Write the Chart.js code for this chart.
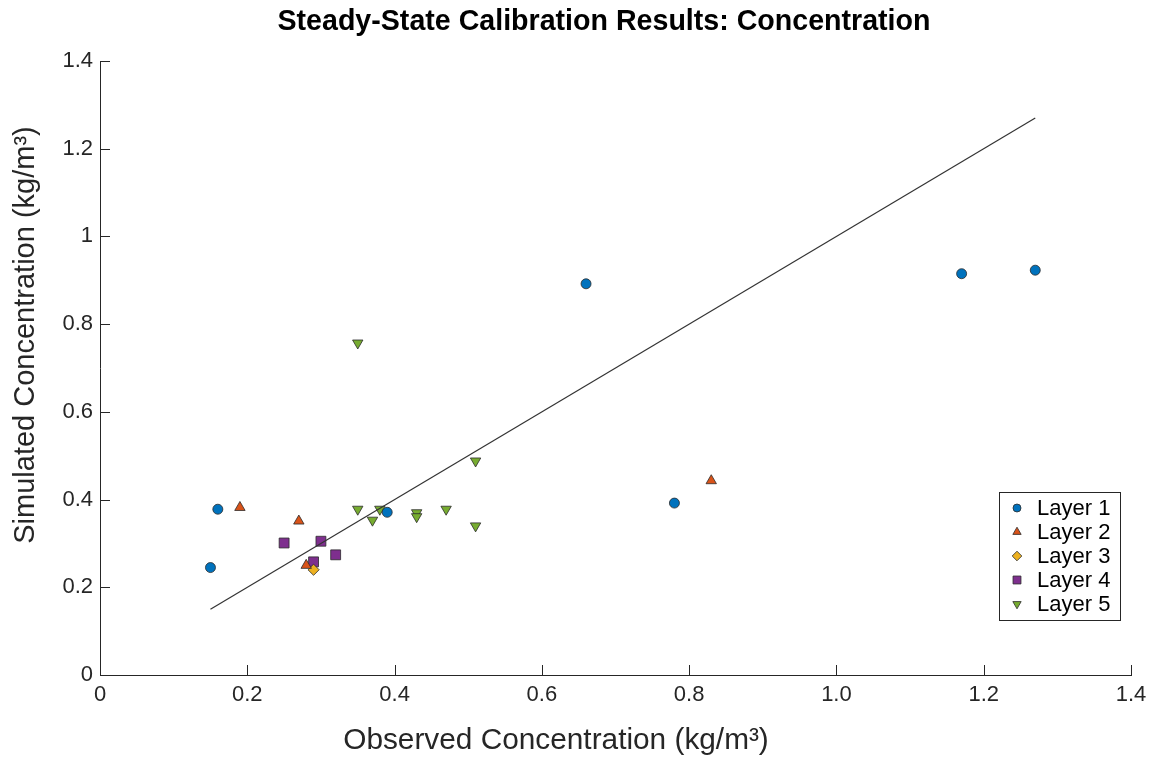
<!DOCTYPE html>
<html>
<head>
<meta charset="utf-8">
<script src="https://cdn.jsdelivr.net/npm/chart.js@4.4.1/dist/chart.umd.min.js"></script>
<style>
  html, body { margin: 0; padding: 0; background: #fff; }
  #wrap { width: 1157px; height: 759px; position: relative; }
</style>
</head>
<body>
<div id="wrap"><canvas id="chart"></canvas></div>
<script>
// Données
const layerNames = ['Layer 1', 'Layer 2', 'Layer 3', 'Layer 4', 'Layer 5'];
const layerColors = ['#0072BD', '#D95319', '#EDB120', '#7E2F8E', '#77AC30'];

const layer1X = [0.15, 0.16, 0.39, 0.66, 0.78, 1.17, 1.27];
const layer1Y = [0.245, 0.378, 0.371, 0.892, 0.392, 0.915, 0.923];
const layer2X = [0.19, 0.27, 0.28, 0.83];
const layer2Y = [0.382, 0.351, 0.25, 0.443];
const layer3X = [0.29];
const layer3Y = [0.24];
const layer4X = [0.25, 0.30, 0.32, 0.29];
const layer4Y = [0.301, 0.305, 0.274, 0.258];
const layer5X = [0.35, 0.35, 0.37, 0.38, 0.43, 0.43, 0.47, 0.51, 0.51];
const layer5Y = [0.757, 0.378, 0.353, 0.378, 0.370, 0.361, 0.378, 0.340, 0.488];

// droite 1:1
const fitX = [0.15, 1.27];
const fitY = [0.15, 1.27];

const xTicks = [0, 0.2, 0.4, 0.6, 0.8, 1.0, 1.2, 1.4];
const xTickLabels = ['0', '0.2', '0.4', '0.6', '0.8', '1.0', '1.2', '1.4'];
const yTicks = [0, 0.2, 0.4, 0.6, 0.8, 1.0, 1.2, 1.4];
const yTickLabels = ['0', '0.2', '0.4', '0.6', '0.8', '1', '1.2', '1.4'];

const titleText = 'Steady-State Calibration Results: Concentration';
const xTitle = 'Observed Concentration (kg/m\u00B3)';
const yTitle = 'Simulated Concentration (kg/m\u00B3)';

const FONT = '"Liberation Sans", Arial, Helvetica, sans-serif';
const AXIS = '#262626';

const toPts = (xs, ys) => xs.map((x, i) => ({ x: x, y: ys[i] }));

const markers = [
    { style: 'circle', rotation: 0, radius: 5, legendRadius: 4 },
    { style: 'triangle', rotation: 0, radius: 6, legendRadius: 4.8 },
    { style: 'rectRot', rotation: 0, radius: 5.6, legendRadius: 4.8 },
    { style: 'rect', rotation: 0, radius: 7, legendRadius: 5.6 },
    { style: 'triangle', rotation: 180, radius: 6, legendRadius: 4.8 }
];
const layerData = [
    toPts(layer1X, layer1Y), toPts(layer2X, layer2Y), toPts(layer3X, layer3Y),
    toPts(layer4X, layer4Y), toPts(layer5X, layer5Y)
];

const datasets = [{
    label: '1:1',
    data: toPts(fitX, fitY),
    showLine: true,
    borderColor: '#333333',
    borderWidth: 1.2,
    pointRadius: 0,
    isFit: true
}];
layerNames.forEach((name, i) => {
    datasets.push({
        label: name,
        data: layerData[i],
        backgroundColor: layerColors[i],
        borderColor: '#2b2b2b',
        borderWidth: 0.8,
        pointStyle: markers[i].style,
        rotation: markers[i].rotation,
        pointRadius: markers[i].radius,
        legendRadius: markers[i].legendRadius
    });
});

// ticks vers l'intérieur + titres + légende encadrée
const framePlugin = {
    id: 'frame',
    afterDraw(chart) {
        const ctx = chart.ctx;
        const area = chart.chartArea;
        const xs = chart.scales.x, ys = chart.scales.y;
        ctx.save();
        ctx.strokeStyle = AXIS;
        ctx.lineWidth = 1;
        ctx.beginPath();
        xTicks.forEach(v => {
            const px = Math.round(xs.getPixelForValue(v)) + 0.5;
            ctx.moveTo(px, area.bottom);
            ctx.lineTo(px, area.bottom - 10);
        });
        yTicks.forEach(v => {
            const py = Math.round(ys.getPixelForValue(v)) + 0.5;
            ctx.moveTo(area.left, py);
            ctx.lineTo(area.left + 10, py);
        });
        ctx.stroke();

        // titre
        ctx.fillStyle = '#000';
        ctx.textAlign = 'center';
        ctx.textBaseline = 'middle';
        ctx.font = 'bold 28.6px ' + FONT;
        ctx.fillText(titleText, 604, 22);

        // titres des axes
        ctx.fillStyle = '#262626';
        ctx.font = '29.8px ' + FONT;
        ctx.fillText(xTitle, 556, 741);
        ctx.font = '29px ' + FONT;
        ctx.save();
        ctx.translate(26, 335);
        ctx.rotate(-Math.PI / 2);
        ctx.fillText(yTitle, 0, 0);
        ctx.restore();

        // légende
        const boxL = area.right - 132, boxR = area.right - 11;
        const boxT = area.bottom - 183, boxB = area.bottom - 55;
        ctx.fillStyle = '#fff';
        ctx.fillRect(boxL, boxT, boxR - boxL, boxB - boxT);
        ctx.strokeStyle = AXIS;
        ctx.strokeRect(Math.round(boxL) + 0.5, Math.round(boxT) + 0.5, boxR - boxL, boxB - boxT);
        ctx.font = '22px ' + FONT;
        ctx.textAlign = 'left';
        let row = 0;
        chart.data.datasets.forEach(ds => {
            if (ds.isFit) return;
            const cy = boxT + 16 + row * 24;
            ctx.fillStyle = ds.backgroundColor;
            ctx.strokeStyle = ds.borderColor;
            ctx.lineWidth = ds.borderWidth;
            Chart.helpers.drawPoint(ctx, {
                pointStyle: ds.pointStyle,
                rotation: ds.rotation,
                radius: ds.legendRadius,
                borderWidth: ds.borderWidth
            }, boxL + 18, cy);
            ctx.fillStyle = '#000';
            ctx.fillText(ds.label, boxL + 38, cy + 1);
            row++;
        });
        ctx.restore();
    }
};

new Chart(document.getElementById('chart'), {
    type: 'scatter',
    data: { datasets: datasets },
    plugins: [framePlugin],
    options: {
        responsive: true, maintainAspectRatio: false,
        animation: false,
        layout: { padding: { top: 61, right: 26, left: 0, bottom: 0 } },
        plugins: { legend: { display: false }, tooltip: { enabled: false }, title: { display: false } },
        scales: {
            x: {
                type: 'linear', min: 0, max: 1.4,
                afterFit: s => { s.height = 84; },
                afterBuildTicks: s => { s.ticks = xTicks.map(v => ({ value: v })); },
                grid: { display: false, drawTicks: false },
                border: { display: true, color: AXIS, width: 1 },
                ticks: {
                    color: '#262626', padding: 7,
                    font: { family: FONT, size: 22 },
                    maxRotation: 0, autoSkip: false,
                    callback: (v, i) => xTickLabels[i]
                }
            },
            y: {
                type: 'linear', min: 0, max: 1.4,
                afterFit: s => { s.width = 100; },
                afterBuildTicks: s => { s.ticks = yTicks.map(v => ({ value: v })); },
                grid: { display: false, drawTicks: false },
                border: { display: true, color: AXIS, width: 1 },
                ticks: {
                    color: '#262626', padding: 7,
                    font: { family: FONT, size: 22 },
                    autoSkip: false,
                    callback: (v, i) => yTickLabels[i]
                }
            }
        }
    }
});
</script>
</body>
</html>
